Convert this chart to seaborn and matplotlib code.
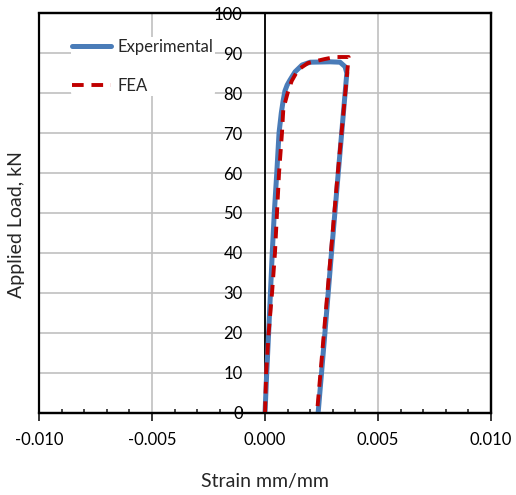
import matplotlib
matplotlib.use("Agg")
import matplotlib.pyplot as plt
import matplotlib.ticker as mticker
from matplotlib.patches import Rectangle
import pandas as pd
import seaborn as sns

# Load-strain response (strain in mm/mm, load in kN)
exp_strain = [0.0, 0.000075, 0.00016, 0.00024, 0.00032, 0.00041, 0.00052, 0.00062,
              0.00072, 0.0008, 0.00088, 0.00098, 0.0011, 0.00133, 0.00164, 0.0020,
              0.00288, 0.00332, 0.00354, 0.00362, 0.00324, 0.00294, 0.00265, 0.00235]
exp_load = [0, 10, 20, 30, 40, 50, 60, 70,
            75, 78, 80.5, 82, 83.2, 85.3, 87, 87.7,
            87.8, 87.7, 86.6, 85, 60, 40, 20, 0]

fea_strain = [0.0, 0.00005, 0.00016, 0.00031, 0.00044, 0.00053, 0.00062, 0.00075,
              0.00081, 0.0010, 0.00118, 0.00146, 0.0019, 0.00265, 0.0031, 0.0037,
              0.00322, 0.0023]
fea_load = [0, 10, 20, 30, 40, 50, 60, 70,
            76, 80, 83, 85.8, 87.5, 88.5, 89, 89,
            60, 0]

sns.set_style("white")
plt.rcParams["font.family"] = ["Lato", "DejaVu Sans"]

fig = plt.figure(figsize=(5.16, 4.95), dpi=100)
ax = fig.add_axes([0.0756, 0.1657, 0.8760, 0.8080])

exp_df = pd.DataFrame({"strain": exp_strain, "load": exp_load})
fea_df = pd.DataFrame({"strain": fea_strain, "load": fea_load})

sns.lineplot(data=exp_df, x="strain", y="load", sort=False, estimator=None,
             color="#4A7CB8", lw=3.6, ax=ax, label="Experimental",
             solid_capstyle="round", solid_joinstyle="round", zorder=3)
sns.lineplot(data=fea_df, x="strain", y="load", sort=False, estimator=None,
             color="#C00000", lw=2.8, ax=ax, label="FEA", zorder=4)
ax.lines[-1].set_dashes((3, 2))

ax.set_xlim(-0.010, 0.010)
ax.set_ylim(0, 100)
ax.xaxis.set_major_locator(mticker.MultipleLocator(0.005))
ax.xaxis.set_minor_locator(mticker.MultipleLocator(0.001))
ax.xaxis.set_major_formatter(mticker.FormatStrFormatter("%.3f"))
ax.yaxis.set_major_locator(mticker.MultipleLocator(10))

ax.grid(True, which="major", color="#C0C0C0", lw=1.2, zorder=0)
ax.set_axisbelow(True)

ax.spines["left"].set_position(("data", 0))
for s in ["left", "bottom", "top", "right"]:
    ax.spines[s].set_color("black")
ax.spines["left"].set_linewidth(1.3)
ax.spines["bottom"].set_linewidth(1.6)
ax.spines["top"].set_linewidth(1.6)
ax.spines["right"].set_linewidth(1.6)
ax.add_patch(Rectangle((0, 0), 1, 1, transform=ax.transAxes, fill=False,
                       ec="black", lw=1.6, clip_on=False, zorder=5))

ax.tick_params(axis="y", length=0, pad=16, labelsize=12, labelcolor="black")
ax.tick_params(axis="x", which="major", direction="out", length=6, width=1.3,
               pad=8, labelsize=12, labelcolor="black", bottom=True)
ax.tick_params(axis="x", which="minor", direction="in", length=3, width=1.2,
               bottom=True)

ax.set_xlabel("Strain mm/mm", fontsize=14)
ax.xaxis.set_label_coords(0.5, -0.15)
ax.set_ylabel("Applied Load, kN", fontsize=14)
ax.yaxis.set_label_coords(-0.032, 0.47)

leg = ax.legend(loc="upper left", bbox_to_anchor=(0.07, 0.94), frameon=True,
                fontsize=12, handlelength=2.3, handletextpad=0.4,
                labelspacing=1.4, borderpad=0.1, borderaxespad=0)
leg.get_frame().set_facecolor("white")
leg.get_frame().set_edgecolor("none")
leg.get_frame().set_alpha(1)
leg.set_zorder(6)

fig.savefig("out.png", dpi=100)
